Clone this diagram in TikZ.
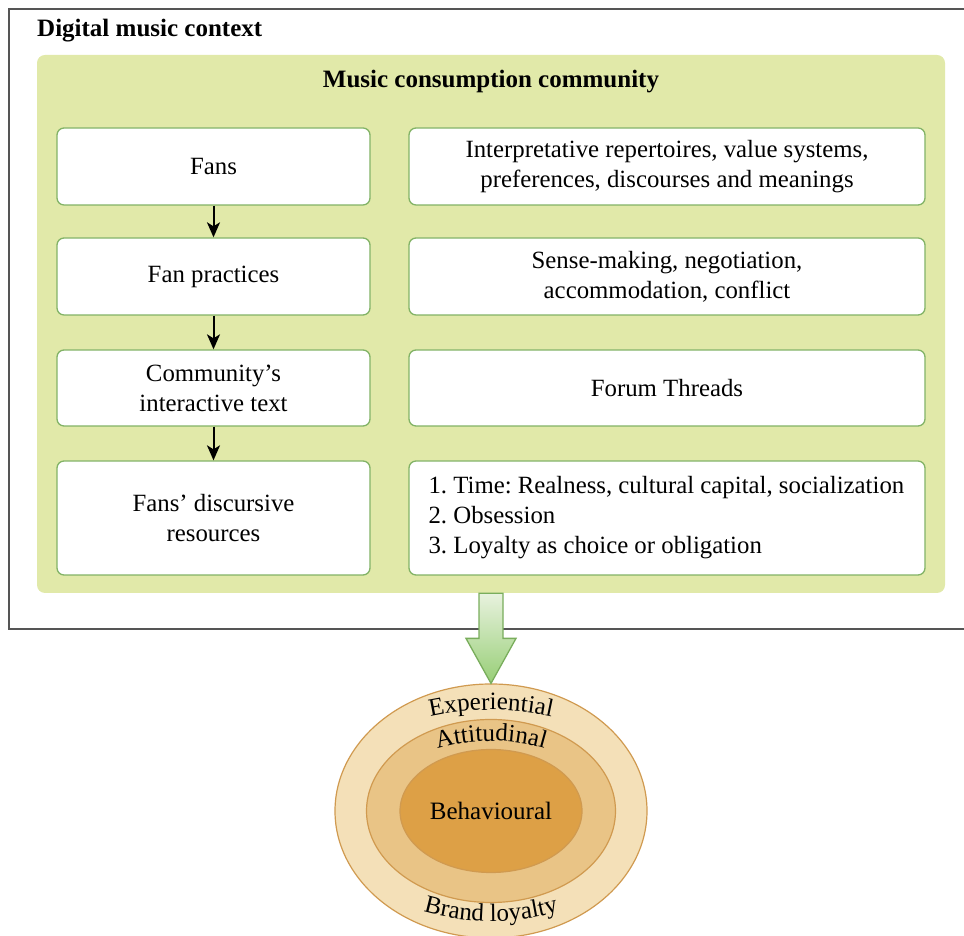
\documentclass[tikz,border=0pt]{standalone}
\usepackage{fontspec}
\setmainfont{Liberation Serif}
\frenchspacing
\usetikzlibrary{shapes.geometric,arrows.meta,decorations.text,calc}
\definecolor{panelfill}{HTML}{E1E9A9}
\definecolor{boxline}{HTML}{82B366}
\definecolor{arrowline}{HTML}{79AD5C}
\definecolor{arrtop}{HTML}{E8F2DE}
\definecolor{arrbot}{HTML}{97CE76}
\definecolor{ringA}{HTML}{F4E0B8}
\definecolor{ringB}{HTML}{E9C486}
\definecolor{ringC}{HTML}{DDA046}
\definecolor{ringline}{HTML}{D09A50}
\definecolor{framecol}{HTML}{555555}
\newcommand\titlefnt{\fontsize{25}{30}\selectfont\bfseries}
\newcommand\boxfnt{\fontsize{24.8}{30}\selectfont}
\newcommand\ringfnt{\fontsize{25}{30}\selectfont}
\tikzset{
  lbox/.style={draw=boxline, line width=1.3pt, fill=white, rounded corners=7pt,
    minimum width=313pt, inner sep=0pt, align=center, font=\boxfnt},
  rbox/.style={lbox, minimum width=516pt},
  smallarrow/.style={line width=2pt, -{Stealth[length=15pt,width=13pt,inset=4pt]}},
  ring/.style={ellipse, draw=ringline, line width=1.2pt, inner sep=0pt},
  bigarrow/.style={draw=arrowline, line width=1.3pt, top color=arrtop, bottom color=arrbot, line join=miter},
  ringtext/.style={decorate, decoration={text along path, text align=center, text={|\ringfnt|#1}}}
}
\begin{document}
\begin{tikzpicture}[x=1pt,y=1pt]
\useasboundingbox (0,0) rectangle (964,936);
\clip (0,0) rectangle (964,936);
% outer frame
\draw[framecol, line width=1.5pt] (9,927) rectangle (972,307);
\node[anchor=base west, font=\titlefnt, inner sep=0pt] (ctx) at (37,899) {Digital music context};
% community panel
\node[fill=panelfill, rounded corners=8pt, minimum width=908pt, minimum height=538pt, inner sep=0pt] (panel) at (491,612) {};
\node[anchor=base, font=\titlefnt, inner sep=0pt] (mcc) at (491,848) {Music consumption community};
% left column
\node[lbox, minimum height=77pt] (fans) at (213.5,769.5) {Fans};
\node[lbox, minimum height=77pt] (prac) at (213.5,659.5) {Fan practices};
\node[lbox, minimum height=76pt] (itext) at (213.5,548) {Community’s\\interactive text};
\node[lbox, minimum height=114pt] (res) at (213.5,418) {Fans’ discursive\\resources};
% right column
\node[rbox, minimum height=77pt] (interp) at (667,769.5) {Interpretative repertoires, value systems,\\preferences, discourses and meanings};
\node[rbox, minimum height=77pt] (sense) at (667,659.5) {Sense-making, negotiation,\\accommodation, conflict};
\node[rbox, minimum height=76pt] (forum) at (667,548) {Forum Threads};
\node[rbox, minimum height=114pt] (themes) at (667,418) {};
\node[anchor=west, align=left, font=\boxfnt, inner sep=0pt] (themestext) at ($(themes.west)+(20,0)$)
  {1. Time: Realness, cultural capital, socialization\\2. Obsession\\3. Loyalty as choice or obligation};
% arrows
\draw[smallarrow] (fans) -- (prac);
\draw[smallarrow] (prac) -- (itext);
\draw[smallarrow] (itext) -- (res);
% loyalty ellipses
\node[ring, fill=ringA, minimum width=312pt, minimum height=254pt] (outerE) at (491,125) {};
\node[ring, fill=ringB, minimum width=249pt, minimum height=183pt] (midE) at (491,125) {};
\node[ring, fill=ringC, minimum width=182pt, minimum height=123pt, font=\ringfnt] (innerE) at (491,125) {Behavioural};
\path[ringtext=Experiential] (outerE.center) ++(150:172pt and 101pt) arc[start angle=150, end angle=30, x radius=172pt, y radius=101pt];
\path[ringtext=Attitudinal] (outerE.center) ++(150:119pt and 70pt) arc[start angle=150, end angle=30, x radius=119pt, y radius=70pt];
\path[ringtext=Brand loyalty] (outerE.center) ++(210:168pt and 110pt) arc[start angle=210, end angle=330, x radius=168pt, y radius=110pt];
% big arrow
\path (panel.south) coordinate (a0) (outerE.north) coordinate (a1);
\draw[bigarrow] ($(a0)+(-12,0)$) -- ($(a0)+(12,0)$) -- ($(a1)+(12,45)$) -- ($(a1)+(25,45)$) -- (a1)
  -- ($(a1)+(-25,45)$) -- ($(a1)+(-12,45)$) -- cycle;
\end{tikzpicture}
\end{document}
